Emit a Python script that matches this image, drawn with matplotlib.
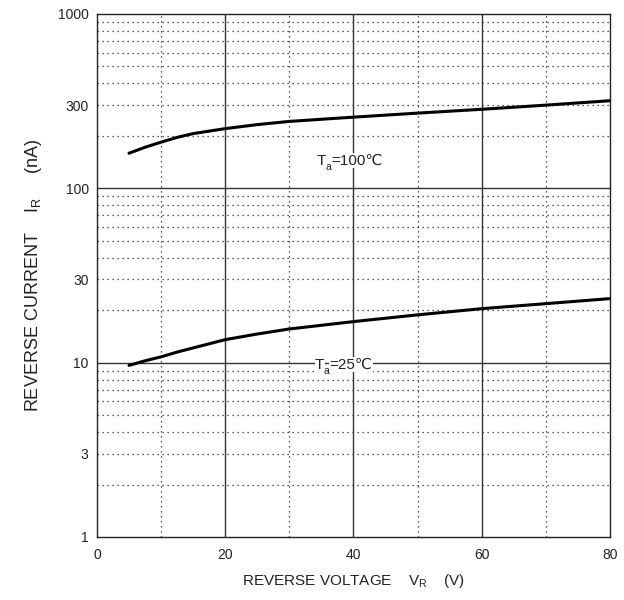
import matplotlib
matplotlib.use('Agg')
import matplotlib.pyplot as plt
from matplotlib.ticker import FixedLocator, NullFormatter

plt.rcParams['font.family'] = ['Liberation Sans', 'DejaVu Sans']
plt.rcParams['mathtext.fontset'] = 'custom'
plt.rcParams['mathtext.rm'] = 'Liberation Sans'

# reverse voltage (V) and reverse current (nA)
vr = [5, 7.5, 10, 12.5, 15, 20, 25, 30, 40, 50, 60, 70, 80]
ir_100 = [159, 172, 184, 196, 206, 220, 232, 242, 256, 270, 284, 300, 318]
ir_25 = [9.65, 10.25, 10.8, 11.5, 12.15, 13.55, 14.6, 15.6, 17.2, 18.8, 20.4, 21.8, 23.3]

x_ticks = [0, 20, 40, 60, 80]
x_minor = [10, 30, 50, 70]
y_ticks = [1, 3, 10, 30, 100, 300, 1000]
y_major_grid = [10, 100]
y_minor = [m * d for d in [1, 10, 100] for m in range(2, 10)]

fig = plt.figure(figsize=(6.24, 6.0), dpi=100)
ax = fig.add_axes([0.1554, 0.105, 0.822, 0.8717])

ax.set_yscale('log')
ax.set_xlim(0, 80)
ax.set_ylim(1, 1000)

# grid
for y in y_minor:
    ax.axhline(y, color='#222222', lw=0.9, ls=(0, (1, 3)), zorder=1)
for x in x_minor:
    ax.axvline(x, color='#222222', lw=0.9, ls=(0, (1, 3)), zorder=1)
for y in y_major_grid:
    ax.axhline(y, color='#333333', lw=1.0, zorder=1)
for x in x_ticks[1:-1]:
    ax.axvline(x, color='#333333', lw=1.0, zorder=1)

ax.plot(vr, ir_100, color='black', lw=2.2, zorder=3, solid_capstyle='round')
ax.plot(vr, ir_25, color='black', lw=2.2, zorder=3, solid_capstyle='round')


def temp_label(x, y, rest):
    box = dict(facecolor='white', edgecolor='none', pad=0.3)
    kw = dict(xy=(x, y), xycoords='data', textcoords='offset points', va='center',
              ha='left', color='#222222', zorder=4)
    ax.annotate('T', xytext=(0, 0), fontsize=11, bbox=box, **kw)
    ax.annotate('a', xytext=(6.3, -4.5), fontsize=7.5, **kw)
    ax.annotate(rest, xytext=(10.6, 0), fontsize=11, bbox=box, **kw)


temp_label(34.3, 144, '=100℃')
temp_label(34.0, 9.75, '=25℃')

ax.xaxis.set_major_locator(FixedLocator(x_ticks))
ax.yaxis.set_major_locator(FixedLocator(y_ticks))
ax.yaxis.set_minor_locator(FixedLocator([]))
ax.yaxis.set_minor_formatter(NullFormatter())
ax.set_yticklabels([str(v) for v in y_ticks])
ax.tick_params(axis='both', which='both', length=0, labelsize=10, colors='#222222')
ax.tick_params(axis='y', pad=6)
ax.tick_params(axis='x', pad=8)

for s in ax.spines.values():
    s.set_color('#222222')
    s.set_linewidth(1.0)

ax.set_xlabel(r'REVERSE VOLTAGE    $\mathregular{V_R}$    (V)', fontsize=11, color='#222222', labelpad=7)
ax.set_ylabel(r'REVERSE CURRENT    $\mathregular{I_R}$     (nA)', fontsize=13, color='#222222', labelpad=10)

fig.savefig('out.png', dpi=100)
